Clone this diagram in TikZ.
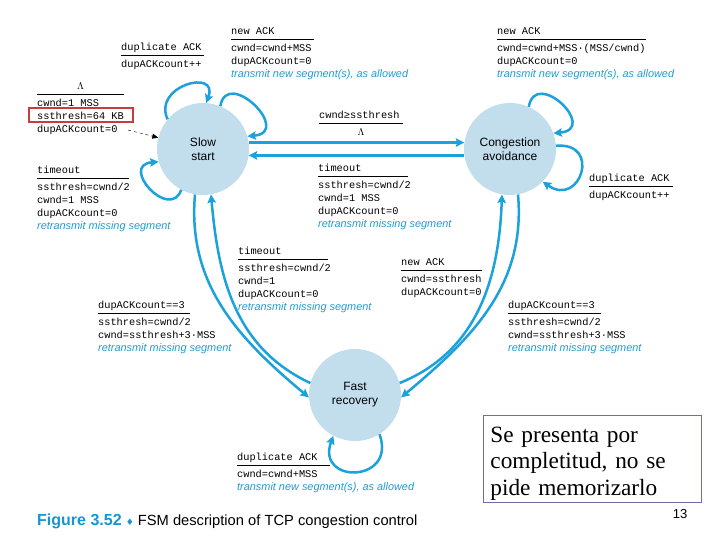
\documentclass[tikz,border=0pt]{standalone}
\usepackage{amsmath,amssymb}
\usepackage{fontspec}
\setmainfont{Liberation Serif}
\setsansfont{Liberation Sans}
\setmonofont{Liberation Mono}
\newfontfamily\symfont{DejaVu Sans}
\usetikzlibrary{arrows.meta}

\definecolor{stfill}{RGB}{194,222,237}
\definecolor{arrblue}{RGB}{27,161,219}
\definecolor{actblue}{RGB}{35,155,205}
\definecolor{capblue}{RGB}{20,150,210}
\definecolor{boxred}{RGB}{200,60,60}
\definecolor{noteline}{RGB}{110,110,160}

\newcommand{\evt}[2]{\rule{0pt}{9pt}\rlap{\rule[-5pt]{#2}{0.5pt}}#1\\[4pt]}
\newcommand{\act}[1]{{\sffamily\itshape\fontsize{10.9}{13}\selectfont\color{actblue}#1}}

\begin{document}
\begin{tikzpicture}[x=1pt, y=1pt,
	state/.style={circle, fill=stfill, minimum size=92pt, inner sep=0pt, align=center, font=\sffamily\fontsize{12}{14}\selectfont},
	lbl/.style={anchor=north west, inner sep=0pt, align=left, font=\ttfamily\fontsize{10.3}{13}\selectfont},
	tr/.style={draw=arrblue, line width=2.5pt, -{Stealth[length=8.5pt, width=8.5pt, inset=1.5pt]}}]
	\useasboundingbox (0,0) rectangle (720,-540);
	
	\node[state] (ss) at (203,-149) {Slow\\start};
	\node[state] (ca) at (510,-149) {Congestion\\avoidance};
	\node[state] (fr) at (355,-395) {Fast\\recovery};
	
	\coordinate (init) at (128,-130);
	\draw[dashed, -{Triangle[length=6pt, width=5pt]}] (init) -- (ss);
	
	\draw[tr] (ss.140) .. controls +(115:37) and +(70:37) .. (ss.86);
	\draw[tr] (ss.68) .. controls +(80:40) and +(5:46) .. (ss.16);
	\draw[tr] (ss.242) .. controls +(250:34) and +(185:40) .. (ss.196);
	\draw[tr] (ca.66) .. controls +(80:40) and +(5:46) .. (ca.20);
	\draw[tr] (ca.4) .. controls +(5:46) and +(-35:46) .. (ca.-45);
	\draw[tr] (fr.-58) .. controls +(-70:52) and +(-110:52) .. (fr.-118);
	
	\draw[tr] (ss.8) -- (ca.172);
	\draw[tr] (ca.188) -- (ss.352);
	
	\draw[tr] (ss.260) to[out=265, in=140] (fr.183);
	\draw[tr] (fr.165) to[out=155, in=275] (ss.280);
	\draw[tr] (fr.15) to[out=22, in=268] (ca.260);
	\draw[tr] (ca.280) to[out=275, in=40] (fr.357);
	
	\draw[boxred, line width=1.2pt] (29,-108) rectangle (133,-122);
	
	\node[lbl] (tSSdup) at (121,-41) {\evt{duplicate ACK}{83pt}dupACKcount++};
	\node[lbl] (tinit) at (37,-80) {\evt{\makebox[87pt]{$\Lambda$}}{87pt}cwnd=1 MSS\\ssthresh=64 KB\\dupACKcount=0};
	\node[lbl] (tSSnew) at (231,-25) {\evt{new ACK}{83pt}cwnd=cwnd+MSS\\dupACKcount=0\\\act{transmit new segment(s), as allowed}};
	\node[lbl] (tCAnew) at (497,-25) {\evt{new ACK}{149pt}cwnd=cwnd+MSS·(MSS/cwnd)\\dupACKcount=0\\\act{transmit new segment(s), as allowed}};
	\node[lbl] (tSSCA) at (319,-109) {\evt{cwnd≥ssthresh}{84pt}\makebox[84pt]{$\Lambda$}};
	\node[lbl] (tCASS) at (318,-162) {\evt{timeout}{90pt}ssthresh=cwnd/2\\cwnd=1 MSS\\dupACKcount=0\\\act{retransmit missing segment}};
	\node[lbl] (tCAdup) at (589,-172) {\evt{duplicate ACK}{84pt}dupACKcount++};
	\node[lbl] (tSSto) at (37,-164) {\evt{timeout}{92pt}ssthresh=cwnd/2\\cwnd=1 MSS\\dupACKcount=0\\\act{retransmit missing segment}};
	\node[lbl] (tFRSS) at (238,-245) {\evt{timeout}{90pt}ssthresh=cwnd/2\\cwnd=1\\dupACKcount=0\\\act{retransmit missing segment}};
	\node[lbl] (tSSFR) at (98,-299) {\evt{dupACKcount==3}{92pt}ssthresh=cwnd/2\\cwnd=ssthresh+3·MSS\\\act{retransmit missing segment}};
	\node[lbl] (tFRCA) at (401,-256) {\evt{new ACK}{81pt}cwnd=ssthresh\\dupACKcount=0};
	\node[lbl] (tCAFR) at (508,-299) {\evt{dupACKcount==3}{93pt}ssthresh=cwnd/2\\cwnd=ssthresh+3·MSS\\\act{retransmit missing segment}};
	\node[lbl] (tFRdup) at (237,-451) {\evt{duplicate ACK}{93pt}cwnd=cwnd+MSS\\\act{transmit new segment(s), as allowed}};
	
	\node[anchor=base west, inner sep=0pt, font=\sffamily\fontsize{14.7}{16}\selectfont] (cap) at (37,-525) {{\bfseries\fontsize{16}{16}\selectfont\color{capblue}Figure 3.52}\ {\symfont\fontsize{9}{10}\selectfont\color{capblue}♦}\ FSM description of TCP congestion control};
	\node[draw=noteline, line width=0.8pt, anchor=north west, text width=204pt, inner xsep=7pt, inner ysep=0pt, align=left, font=\rmfamily\fontsize{23.3}{26.5}\selectfont] (nota) at (483,-415) {\rule{0pt}{27pt}Se presenta por\\completitud, no se\\pide memorizarlo\rule[-7pt]{0pt}{7pt}};
	\node[font=\sffamily\fontsize{13}{15}\selectfont, inner sep=0pt] (pnum) at (680,-514) {13};
\end{tikzpicture}
\end{document}
